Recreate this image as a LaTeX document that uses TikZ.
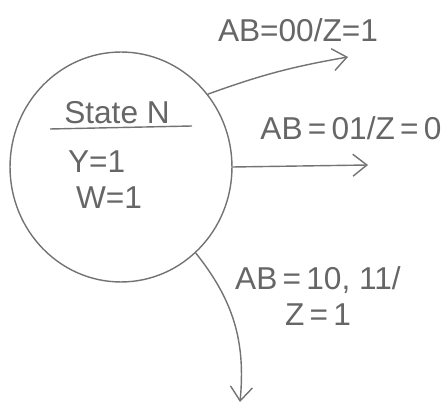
\documentclass[tikz,border=0pt]{standalone}
\usepackage{fontspec}
\setmainfont{Liberation Sans}
\usetikzlibrary{arrows.meta,shapes.geometric}
\begin{document}
\begin{tikzpicture}[x=0.02cm,y=-0.02cm,
    pencil/.style={draw=black!55,line width=.8pt},
    statering/.style={pencil,ellipse,minimum width=4.44cm,minimum height=4.6cm,inner sep=0pt},
    lbl/.style={text=black!60,font=\fontsize{18}{21}\selectfont,inner sep=1pt},
    trans/.style={pencil,-{Straight Barb[length=2.8mm,width=4.4mm]}},
  ]
    \useasboundingbox (0,0) rectangle (446,404);
    % the one state, with its name underlined and its outputs below
    \node[statering] (stateN) at (121,167) {};
    \node[lbl] (title) at (117,113) {State N};
    \coordinate (ulL) at (50,129);
    \coordinate (ulR) at (192,126);
    \draw[pencil] (ulL) -- (ulR);
    \node[lbl,anchor=west] (outY) at (66,162) {Y=1};
    \node[lbl,anchor=west] (outW) at (74,198) {W=1};
    % transitions leaving the state
    \coordinate (endA) at (348,57);
    \coordinate (endB) at (368,165);
    \coordinate (endC) at (240,402);
    \draw[trans] (stateN.40) to[bend left=5] (endA);
    \draw[trans] (stateN.0) -- (endB);
    \draw[trans] (stateN.-49) to[bend left=22] (endC);
    \node[lbl] (lblA) at (298,30) {AB=00/Z=1};
    \node[lbl] (lblB) at (351,128) {AB\,=\,01/Z\,=\,0};
    \node[lbl,align=center] (lblC) at (318,296) {AB\,=\,10, 11/\\Z\,=\,1};
  \end{tikzpicture}
\end{document}
